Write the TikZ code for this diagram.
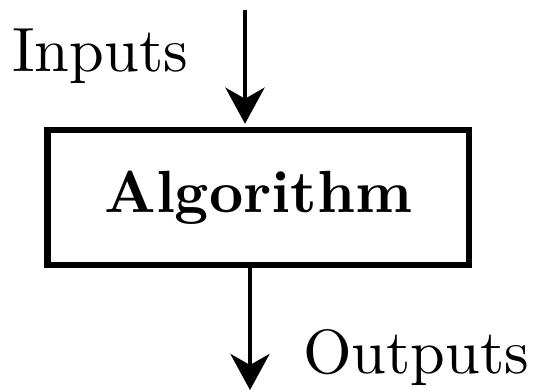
\documentclass[tikz,border=0pt]{standalone}
\usepackage{graphicx}
\usetikzlibrary{arrows.meta}
\newcommand{\bigtxt}[1]{\scalebox{6.25}{#1}}
\newcommand{\bigbold}[1]{\scalebox{5.95}{\bfseries #1}}
\begin{document}
\begin{tikzpicture}[x=1pt,y=-1pt,
  bigtext/.style={inner sep=0pt},
  algbox/.style={draw, line width=6.5pt, minimum width=421.5pt, minimum height=135pt, inner sep=0pt},
  flow/.style={line width=4.5pt, -{Stealth[length=36pt,width=39pt,inset=11pt]}}]
\useasboundingbox (0,0) rectangle (534,390);
\node[algbox] (alg) at (258.25,197.5) {\bigbold{Algorithm}};
\coordinate (in) at (245,10);
\coordinate (out) at (250,390);
\draw[flow, shorten >=3pt] (in) -- (in |- alg.north);
\draw[flow] (out |- alg.south) -- (out);
\node[bigtext, anchor=base west] (inlabel) at (12,72) {\bigtxt{Inputs}};
\node[bigtext, anchor=base west] (outlabel) at (303,373) {\bigtxt{Outputs}};
\end{tikzpicture}
\end{document}
